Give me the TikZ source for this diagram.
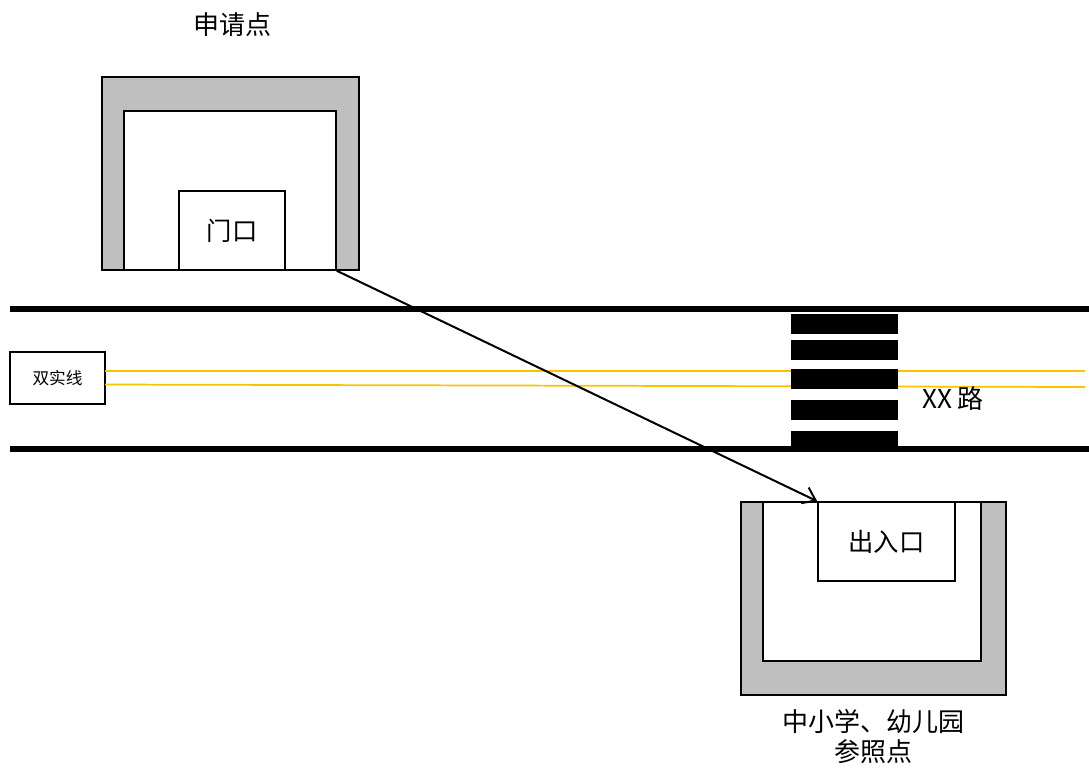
\documentclass[tikz,border=0pt]{standalone}
\usepackage{fontspec}
\setmainfont{Noto Sans CJK SC}
\usetikzlibrary{fit,arrows.meta}
\definecolor{lane}{HTML}{FFC000}
\definecolor{wallgray}{HTML}{BFBFBF}
\tikzset{
  wall/.style={draw=black, fill=wallgray, line width=1.1pt, inner sep=0pt},
  yard/.style={draw=black, fill=white, line width=1.1pt, inner sep=0pt},
  gatebox/.style={draw=black, fill=white, line width=1.1pt, inner sep=0pt, font=\fontsize{19}{22}\selectfont},
  roadedge/.style={line width=3.8pt},
  laneline/.style={draw=lane, line width=1.3pt},
  stripe/.style={fill=black},
  caption/.style={font=\fontsize{19.5}{22.5}\selectfont, align=center, inner sep=0pt},
  route/.style={line width=1.5pt, -{Straight Barb[length=9pt,width=13pt,line width=1.5pt]}}
}
\begin{document}
\begin{tikzpicture}[x=0.75pt,y=-0.75pt]
\useasboundingbox (0,0) rectangle (1089,769);
% road
\coordinate (rtl) at (10,309); \coordinate (rtr) at (1089,309);
\coordinate (rbl) at (10,449); \coordinate (rbr) at (1089,449);
\draw[roadedge] (rtl) -- (rtr);
\draw[roadedge] (rbl) -- (rbr);
% double solid line label
\node[draw, line width=0.9pt, minimum width=71.25pt, minimum height=39pt, inner sep=0pt, font=\fontsize{12.5}{15}\selectfont] (dsx) at (57.5,378) {\raisebox{-3pt}{双实线}};
\coordinate (la1) at (105,371); \coordinate (la2) at (1085,371);
\coordinate (lb1) at (105,384.5); \coordinate (lb2) at (1085,387);
\draw[laneline] (la1) -- (la2);
\draw[laneline] (lb1) -- (lb2);
% zebra crossing
\fill[stripe] (791,314) rectangle (898,334);
\fill[stripe] (791,340) rectangle (898,360);
\fill[stripe] (791,369) rectangle (898,389);
\fill[stripe] (791,400) rectangle (898,420);
\fill[stripe] (791,431) rectangle (898,449);
\node[caption] (road) at (953,399) {XX 路};
% top building
\node[wall, fit={(102,77)(359,270)}] (b1) {};
\node[yard, fit={(124,111)(336,270)}] (y1) {};
\node[gatebox, minimum width=79.5pt, minimum height=59.25pt] (g1) at (232,230.5) {门口};
\node[caption] (t1) at (232,25) {申请点};
% bottom building
\node[wall, fit={(741,502)(1006,695)}] (b2) {};
\node[yard, fit={(763,502)(981,661)}] (y2) {};
\node[gatebox, minimum width=102.75pt, minimum height=59.25pt] (g2) at (886.5,541.5) {出入口};
\node[caption] (t2) at (873,737) {中小学、幼儿园\\参照点};
% route arrow
\draw[route] (y1.south east) -- (g2.north west);
\end{tikzpicture}
\end{document}
